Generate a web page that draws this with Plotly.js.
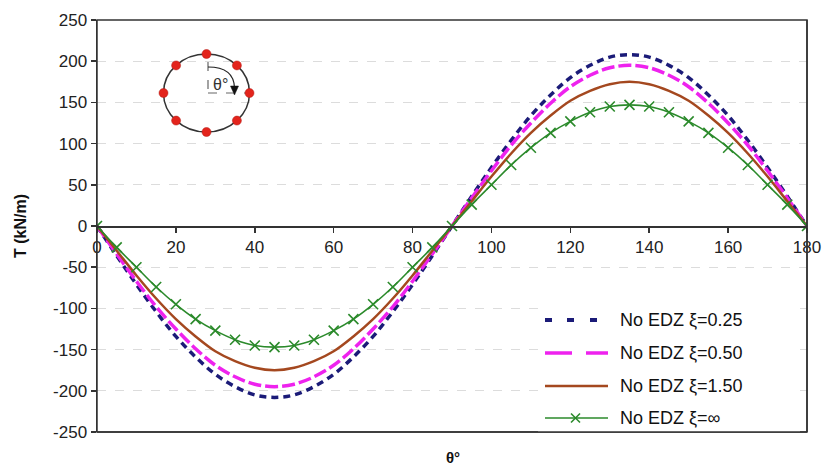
<!DOCTYPE html>
<html>
<head>
<meta charset="utf-8">
<script src="https://cdn.plot.ly/plotly-3.0.1.min.js"></script>
<style>html,body{margin:0;padding:0;background:#fff;}#chart{width:828px;height:468px;}</style>
</head>
<body>
<div id="chart"></div>
<script>
// Data
var theta = [0,5,10,15,20,25,30,35,40,45,50,55,60,65,70,75,80,85,90,95,100,105,110,115,120,125,130,135,140,145,150,155,160,165,170,175,180];
var T_xi025 = [0,-36,-71,-104,-134,-159,-180,-195,-205,-208,-205,-195,-180,-159,-134,-104,-71,-36,0,36,71,104,134,159,180,195,205,208,205,195,180,159,134,104,71,36,0];
var T_xi050 = [0,-34,-67,-98,-125,-149,-169,-183,-192,-195,-192,-183,-169,-149,-125,-98,-67,-34,0,34,67,98,125,149,169,183,192,195,192,183,169,149,125,98,67,34,0];
var T_xi150 = [0,-30,-60,-88,-113,-134,-152,-164,-172,-175,-172,-164,-152,-134,-113,-88,-60,-30,0,30,60,88,113,134,152,164,172,175,172,164,152,134,113,88,60,30,0];
var T_xiInf = [0,-26,-50,-74,-95,-113,-127,-138,-145,-147,-145,-138,-127,-113,-95,-74,-50,-26,0,26,50,74,95,113,127,138,145,147,145,138,127,113,95,74,50,26,0];
var seriesNames = ["No EDZ \u03BE=0.25","No EDZ \u03BE=0.50","No EDZ \u03BE=1.50","No EDZ \u03BE=\u221E"];
var seriesColors = ["#1b1b78", "#ee22ee", "#a4481f", "#2b8a2b"];
var xTicks = [0,20,40,60,80,100,120,140,160,180];
var yTicks = [-250,-200,-150,-100,-50,0,50,100,150,200,250];

var FONT = "Liberation Sans, Arial, sans-serif";

var traces = [
  {x: theta, y: T_xi025, name: seriesNames[0], mode: "lines",
   line: {color: seriesColors[0], width: 3.5, dash: "7px,5px", shape: "spline"}},
  {x: theta, y: T_xi050, name: seriesNames[1], mode: "lines",
   line: {color: seriesColors[1], width: 3.5, dash: "13px,4px", shape: "spline"}},
  {x: theta, y: T_xi150, name: seriesNames[2], mode: "lines",
   line: {color: seriesColors[2], width: 2.5, shape: "spline"}},
  {x: theta, y: T_xiInf, name: seriesNames[3], mode: "lines+markers",
   line: {color: seriesColors[3], width: 1.6, shape: "spline"},
   marker: {symbol: "x-thin-open", size: 10, color: seriesColors[3], line: {color: seriesColors[3], width: 1.6}}}
];

// plot area pixel geometry helpers (for decorations)
var L = 97, R = 807, TOP = 20, BOT = 432;
function px(x){ return (x - L) / (R - L); }
function py(y){ return (BOT - y) / (BOT - TOP); }

var shapes = [];
var annotations = [];
function seg(x0, x1, y, color, width) {
  shapes.push({type: "line", xref: "paper", yref: "paper", x0: px(x0), x1: px(x1), y0: py(y), y1: py(y),
    line: {color: color, width: width}, layer: "above"});
}
// border box
shapes.push({type: "rect", xref: "paper", yref: "paper", x0: 0, x1: 1, y0: 0, y1: 1,
  line: {color: "#333", width: 1.5}, layer: "above"});
// inset circle
var cx = 206.5, cy = 93, rx = 43, ry = 39;
shapes.push({type: "circle", xref: "paper", yref: "paper",
  x0: px(cx - rx), x1: px(cx + rx), y0: py(cy + ry), y1: py(cy - ry),
  line: {color: "#333", width: 1.5}});
shapes.push({type: "line", xref: "paper", yref: "paper", x0: px(208), x1: px(208), y0: py(62), y1: py(93),
  line: {color: "#666", width: 1.2, dash: "dash"}});
shapes.push({type: "line", xref: "paper", yref: "paper", x0: px(208), x1: px(247), y0: py(93), y1: py(93),
  line: {color: "#666", width: 1.2, dash: "dash"}});
shapes.push({type: "path", xref: "paper", yref: "paper",
  path: "M " + px(208) + " " + py(67) + " Q " + px(234) + " " + py(67) + " " + px(234.5) + " " + py(88),
  line: {color: "#222", width: 1.2}});
shapes.push({type: "path", xref: "paper", yref: "paper",
  path: "M " + px(234.5) + " " + py(95) + " L " + px(230.5) + " " + py(86) + " L " + px(238.5) + " " + py(86) + " Z",
  fillcolor: "#111", line: {color: "#111", width: 0.5}});
for (var k = 0; k < 8; k++) {
  var a = k * Math.PI / 4;
  var dx = cx + rx * Math.cos(a), dy = cy + ry * Math.sin(a);
  shapes.push({type: "circle", xref: "paper", yref: "paper",
    x0: px(dx - 4.5), x1: px(dx + 4.5), y0: py(dy + 4.5), y1: py(dy - 4.5),
    fillcolor: "#e3241c", line: {color: "#b01a14", width: 0.5}});
}
annotations.push({text: "\u03B8\u00B0", xref: "paper", yref: "paper", x: px(220), y: py(84),
  xanchor: "center", yanchor: "middle", showarrow: false,
  font: {family: FONT, size: 16, color: "#333"}});

// custom legend (bottom right, inside plot)
var legRows = [320, 353, 386, 418];
shapes.push({type: "rect", xref: "paper", yref: "paper", x0: px(538), x1: px(800), y0: py(432), y1: py(303),
  fillcolor: "#fff", line: {width: 0}, layer: "above"});
// navy short dashes
seg(545, 552, legRows[0], seriesColors[0], 4);
seg(567, 574, legRows[0], seriesColors[0], 4);
seg(590, 597, legRows[0], seriesColors[0], 4);
// magenta long dashes
seg(545, 572, legRows[1], seriesColors[1], 3.5);
seg(586, 608, legRows[1], seriesColors[1], 3.5);
// brown solid
seg(545, 608, legRows[2], seriesColors[2], 2.5);
// green solid with x
seg(545, 608, legRows[3], seriesColors[3], 1.6);
shapes.push({type: "line", xref: "paper", yref: "paper", x0: px(571), x1: px(580), y0: py(413.5), y1: py(422.5),
  line: {color: seriesColors[3], width: 1.6}, layer: "above"});
shapes.push({type: "line", xref: "paper", yref: "paper", x0: px(571), x1: px(580), y0: py(422.5), y1: py(413.5),
  line: {color: seriesColors[3], width: 1.6}, layer: "above"});
for (var i = 0; i < seriesNames.length; i++) {
  annotations.push({text: seriesNames[i], xref: "paper", yref: "paper", x: px(618), y: py(legRows[i]),
    xanchor: "left", yanchor: "middle", showarrow: false,
    font: {family: FONT, size: 18, color: "#111"}});
}
// redraw bottom/right border over legend box
shapes.push({type: "line", xref: "paper", yref: "paper", x0: 0, x1: 1, y0: 0, y1: 0,
  line: {color: "#333", width: 1.5}, layer: "above"});
shapes.push({type: "line", xref: "paper", yref: "paper", x0: 1, x1: 1, y0: 0, y1: 1,
  line: {color: "#333", width: 1.5}, layer: "above"});

// axis titles
annotations.push({text: "<b>\u03B8\u00B0</b>", xref: "paper", yref: "paper", x: px(453), y: py(457),
  xanchor: "center", yanchor: "middle", showarrow: false,
  font: {family: FONT, size: 15, color: "#111"}});
annotations.push({text: "<b>T (kN/m)</b>", xref: "paper", yref: "paper", x: px(20), y: py(226), textangle: -90,
  xanchor: "center", yanchor: "middle", showarrow: false,
  font: {family: FONT, size: 16, color: "#111"}});

var layout = {
  width: 828, height: 468,
  margin: {l: L, r: 828 - R, t: TOP, b: 468 - BOT},
  paper_bgcolor: "#fff", plot_bgcolor: "#fff",
  font: {family: FONT, size: 17, color: "#222"},
  showlegend: false,
  xaxis: {range: [0, 180], tickvals: xTicks, ticktext: xTicks.map(String), ticks: "outside", ticklen: 5,
    tickwidth: 1.5, tickcolor: "#333", showline: true, linecolor: "#333", linewidth: 1.5,
    anchor: "free", position: 0.5, showgrid: false, zeroline: false, fixedrange: true,
    tickfont: {family: FONT, size: 17, color: "#222"}},
  yaxis: {range: [-250, 250], tickvals: yTicks, ticktext: yTicks.map(String), ticks: "outside", ticklen: 5,
    tickwidth: 1.5, tickcolor: "#333", showline: true, linecolor: "#333", linewidth: 1.5,
    showgrid: true, gridcolor: "#dcdcdc", griddash: "dash", gridwidth: 1, zeroline: false, fixedrange: true,
    tickfont: {family: FONT, size: 17, color: "#222"}},
  shapes: shapes,
  annotations: annotations
};

Plotly.newPlot("chart", traces, layout, {displayModeBar: false, staticPlot: true});
</script>
</body>
</html>
